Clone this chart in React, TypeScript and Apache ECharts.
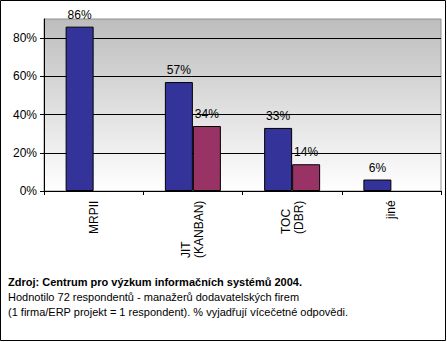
import React, { useEffect, useRef } from "react";
import * as echarts from "echarts";

const categories = ["MRPII", "JIT\n(KANBAN)", "TOC\n(DBR)", "jiné"];
const seriesA = [86, 57, 33, 6];
const seriesB: (number | null)[] = [null, 34, 14, null];
const footer = [
  "Zdroj: Centrum pro výzkum informačních systémů 2004.",
  "Hodnotilo 72 respondentů - manažerů dodavatelských firem",
  "(1 firma/ERP projekt = 1 respondent). % vyjadřují vícečetné odpovědi.",
];

const FONT = "'Liberation Sans', Arial, sans-serif";

function measure(text: string, font: string): number {
  const c = document.createElement("canvas").getContext("2d");
  if (!c) return text.length * 7;
  c.font = font;
  return Math.ceil(c.measureText(text).width);
}

export default function App() {
  const ref = useRef<HTMLDivElement>(null);
  useEffect(() => {
    if (!ref.current) return;
    const chart = echarts.init(ref.current, undefined, { renderer: "svg" });
    const labelFont = `12px ${FONT}`;
    const rich: Record<string, any> = {};
    categories.forEach((cat, i) => {
      const w = Math.max(...cat.split("\n").map((l) => measure(l, labelFont)));
      rich["c" + i] = {
        width: w,
        align: "left",
        fontFamily: FONT,
        fontSize: 12,
        lineHeight: 13,
        color: "#000",
      };
    });
    const label = {
      show: true,
      position: "top" as const,
      color: "#000",
      fontFamily: FONT,
      fontSize: 12,
      distance: 6,
      formatter: "{c}%",
    };
    chart.setOption({
      animation: false,
      backgroundColor: "#fff",
      textStyle: { fontFamily: FONT },
      grid: {
        left: 44,
        right: 6,
        top: 19,
        bottom: 151,
        show: true,
        borderWidth: 1,
        borderColor: "#909090",
        backgroundColor: new echarts.graphic.LinearGradient(0, 0, 0, 1, [
          { offset: 0, color: "#bdbdbd" },
          { offset: 1, color: "#ffffff" },
        ]),
      },
      xAxis: {
        type: "category",
        data: categories,
        axisLine: { lineStyle: { color: "#000", width: 1 } },
        axisTick: { show: true, length: 4, lineStyle: { color: "#000" } },
        axisLabel: {
          rotate: 90,
          color: "#000",
          fontFamily: FONT,
          fontSize: 12,
          lineHeight: 13,
          margin: 9,
          align: "right",
          verticalAlign: "middle",
          formatter: (val: string, idx: number) =>
            val
              .split("\n")
              .map((l) => `{c${idx}|${l}}`)
              .join("\n"),
          rich,
        },
      },
      yAxis: {
        type: "value",
        min: 0,
        max: 90,
        interval: 20,
        axisLine: { show: true, lineStyle: { color: "#000" } },
        axisTick: { show: true, length: 4, lineStyle: { color: "#000" } },
        axisLabel: {
          color: "#000",
          fontFamily: FONT,
          fontSize: 12,
          margin: 7,
          showMaxLabel: false,
          formatter: "{value}%",
        },
        splitLine: {
          show: true,
          lineStyle: {
            color: ["#000", "#000", "#000", "#000", "#000", "rgba(0,0,0,0)"],
            width: 1,
          },
        },
      },
      series: [
        {
          type: "bar",
          data: seriesA,
          barWidth: 28,
          barGap: "0%",
          itemStyle: { color: "#333399", borderColor: "#000", borderWidth: 1 },
          label,
        },
        {
          type: "bar",
          data: seriesB,
          barWidth: 28,
          barGap: "0%",
          itemStyle: { color: "#993366", borderColor: "#000", borderWidth: 1 },
          label,
        },
      ],
      graphic: [
        {
          type: "rect",
          shape: { x: 0.5, y: 0.5, width: 445, height: 340 },
          style: { fill: "none", stroke: "#000", lineWidth: 1 },
          silent: true,
        },
        {
          type: "text",
          left: 8,
          top: 276,
          style: {
            text: footer[0],
            fill: "#000",
            font: `bold 11px ${FONT}`,
          },
        },
        {
          type: "text",
          left: 8,
          top: 291,
          style: { text: footer[1], fill: "#000", font: `11px ${FONT}` },
        },
        {
          type: "text",
          left: 8,
          top: 306,
          style: { text: footer[2], fill: "#000", font: `11px ${FONT}` },
        },
      ],
    });
    return () => chart.dispose();
  }, []);
  return (
    <div
      ref={ref}
      style={{ position: "fixed", left: 0, top: 0, width: 447, height: 342 }}
    />
  );
}
